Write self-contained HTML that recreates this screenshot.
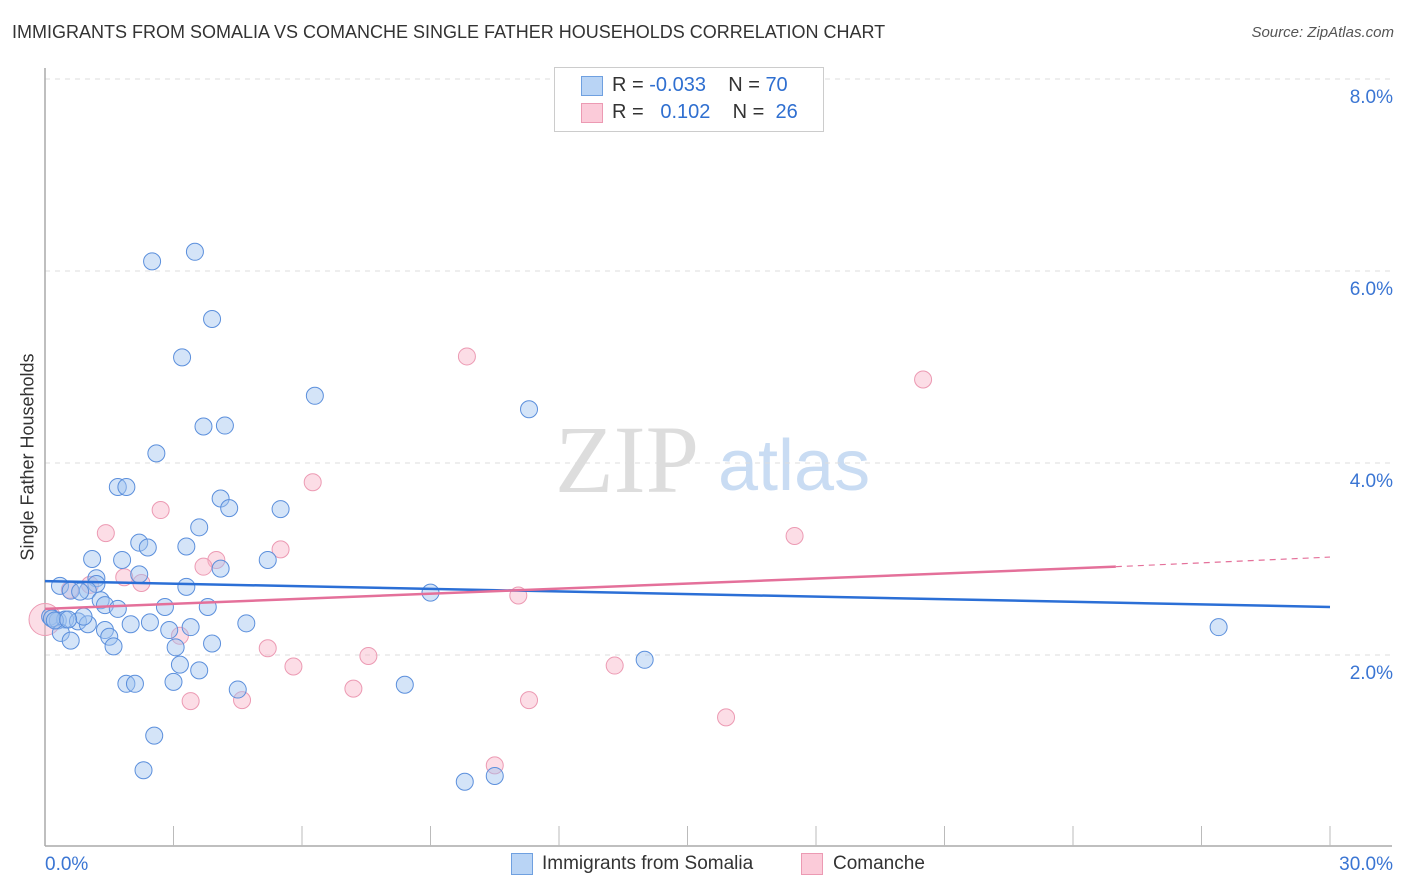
<!DOCTYPE html>
<html><head><meta charset="utf-8"><style>
body{margin:0;background:#fff;font-family:"Liberation Sans",sans-serif;}
#wrap{position:relative;width:1406px;height:892px;overflow:hidden;}
.t{position:absolute;white-space:nowrap;}
</style></head><body>
<div id="wrap">
<div class="t" style="left:12px;top:22px;font-size:18px;color:#333;">IMMIGRANTS FROM SOMALIA VS COMANCHE SINGLE FATHER HOUSEHOLDS CORRELATION CHART</div>
<div class="t" style="right:12px;top:24px;font-size:15px;color:#555;font-style:italic;">Source: ZipAtlas.com</div>
<div class="t" style="left:28px;top:457px;font-size:18px;color:#333;transform:translate(-50%,-50%) rotate(-90deg);">Single Father Households</div>
<svg id="plot" width="1406" height="892" style="position:absolute;left:0;top:0">
<text x="555" y="492" font-size="96" font-family="Liberation Serif" fill="#ddd">ZIP</text>
<text x="718" y="490" font-size="72" font-family="Liberation Sans" fill="#c9dcf3">atlas</text>
</svg>
<div style="position:absolute;left:554px;top:67px;width:268px;height:63px;border:1px solid #ccc;background:#fff;"></div>
<div style="position:absolute;left:581px;top:76px;width:20px;height:18px;background:#b9d4f5;border:1px solid #6fa0e0;"></div>
<div style="position:absolute;left:581px;top:103px;width:20px;height:18px;background:#fbcbd9;border:1px solid #ec9ab3;"></div>
<div class="t" style="left:612px;top:74px;font-size:20px;color:#333;">R = <span style="color:#2f6fd0">-0.033</span>&nbsp;&nbsp;&nbsp; N = <span style="color:#2f6fd0">70</span></div>
<div class="t" style="left:612px;top:101px;font-size:20px;color:#333;">R = &nbsp;&nbsp;<span style="color:#2f6fd0">0.102</span>&nbsp;&nbsp;&nbsp; N = &nbsp;<span style="color:#2f6fd0">26</span></div>
<div style="position:absolute;left:511px;top:853px;width:20px;height:20px;background:#b9d4f5;border:1px solid #6fa0e0;"></div>
<div class="t" style="left:542px;top:853px;font-size:19px;color:#333;">Immigrants from Somalia</div>
<div style="position:absolute;left:801px;top:853px;width:20px;height:20px;background:#fbcbd9;border:1px solid #ec9ab3;"></div>
<div class="t" style="left:833px;top:853px;font-size:19px;color:#333;">Comanche</div>
</div>
<script>
const yTicks=[2,4,6,8];
const xTickLabels=["0.0%","30.0%"];
const somaliaX=[2.5,3.5,3.9,3.2,6.3,11.3,3.7,4.2,2.6,1.7,1.9,4.1,4.3,5.5,3.6,2.2,2.4,3.3,1.1,1.8,5.2,4.1,2.2,0.35,1.2,1.2,3.3,0.6,1.0,1.3,1.4,1.7,2.8,3.8,9.0,0.12,0.3,0.47,0.77,1.0,0.9,0.37,0.6,1.4,1.5,1.6,2.0,2.45,2.9,3.4,4.7,3.05,3.9,3.15,3.6,3.0,1.9,2.1,4.5,8.4,14.0,27.4,2.55,2.3,9.8,10.5,0.16,0.23,0.82,0.54];
const somaliaY=[6.1,6.2,5.5,5.1,4.7,4.56,4.38,4.39,4.1,3.75,3.75,3.63,3.53,3.52,3.33,3.17,3.12,3.13,3.0,2.99,2.99,2.9,2.84,2.72,2.8,2.74,2.71,2.67,2.67,2.57,2.52,2.48,2.5,2.5,2.65,2.4,2.36,2.37,2.35,2.32,2.4,2.23,2.15,2.26,2.19,2.09,2.32,2.34,2.26,2.29,2.33,2.08,2.12,1.9,1.84,1.72,1.7,1.7,1.64,1.69,1.95,2.29,1.16,0.8,0.68,0.74,2.38,2.36,2.66,2.37];
const comancheX=[9.85,20.5,6.25,2.7,1.42,17.5,5.5,4.0,3.7,1.85,2.25,0.58,11.05,3.15,5.2,7.55,5.8,13.3,7.2,3.4,4.6,11.3,15.9,10.5,1.05,0.0];
const comancheY=[5.11,4.87,3.8,3.51,3.27,3.24,3.1,2.99,2.92,2.81,2.75,2.68,2.62,2.2,2.07,1.99,1.88,1.89,1.65,1.52,1.53,1.53,1.35,0.85,2.73,2.37];
const somaliaTrend=[2.77,2.5];
const comancheTrend=[2.48,2.92,3.02];
const comancheTrendX=[0,25,30];
const X0=45,X1=1330,Y0=847,PPU=96;
const xs=v=>X0+v/30*(X1-X0), ys=v=>Y0-v*PPU;
const svg=document.getElementById('plot');
const NS='http://www.w3.org/2000/svg';
function mk(tag,attrs){const e=document.createElementNS(NS,tag);for(const k in attrs)e.setAttribute(k,attrs[k]);svg.appendChild(e);return e;}
yTicks.forEach(t=>{
 const g=mk('line',{x1:45,x2:1392,y1:ys(t),y2:ys(t),stroke:'#ddd','stroke-dasharray':'5,5'});
 
 
 const l=mk('text',{x:1393,y:ys(t)+24,'text-anchor':'end','font-size':19,fill:'#3a75d3'});
 l.textContent=t.toFixed(1)+'%';
 
 
});
const ax=mk('line',{x1:45,x2:45,y1:68,y2:846,stroke:'#aaa','stroke-width':1.5});


const bx=mk('line',{x1:45,x2:1392,y1:846,y2:846,stroke:'#aaa','stroke-width':1.5});


for(let i=1;i<=10;i++){
 const t=mk('line',{x1:xs(i*3),x2:xs(i*3),y1:826,y2:846,stroke:'#bbb'});
 
 
}
[[0,'start',45],[1,'end',1393]].forEach(([i,a,x])=>{
 const l=mk('text',{x:x,y:870,'text-anchor':a,'font-size':19,fill:'#3a75d3'});
 l.textContent=xTickLabels[i];
 
 
});
comancheX.forEach((v,i)=>{
 const c=mk('circle',{cx:xs(v),cy:ys(comancheY[i]),r:i==comancheX.length-1?16:8.5,fill:'rgba(248,180,200,0.45)',stroke:'#ec9ab3','stroke-width':1});
 
 
});
somaliaX.forEach((v,i)=>{
 const c=mk('circle',{cx:xs(v),cy:ys(somaliaY[i]),r:8.5,fill:'rgba(160,196,240,0.45)',stroke:'#5b8fdc','stroke-width':1});
 
 
});
const bl=mk('line',{x1:xs(0),x2:xs(30),y1:ys(somaliaTrend[0]),y2:ys(somaliaTrend[1]),stroke:'#2b6fd6','stroke-width':2.5});


const pl=mk('line',{x1:xs(comancheTrendX[0]),x2:xs(comancheTrendX[1]),y1:ys(comancheTrend[0]),y2:ys(comancheTrend[1]),stroke:'#e4709a','stroke-width':2.5});


const pd=mk('line',{x1:xs(comancheTrendX[1]),x2:xs(comancheTrendX[2]),y1:ys(comancheTrend[1]),y2:ys(comancheTrend[2]),stroke:'#e4709a','stroke-width':1.2,'stroke-dasharray':'6,5'});


</script>
</body></html>
